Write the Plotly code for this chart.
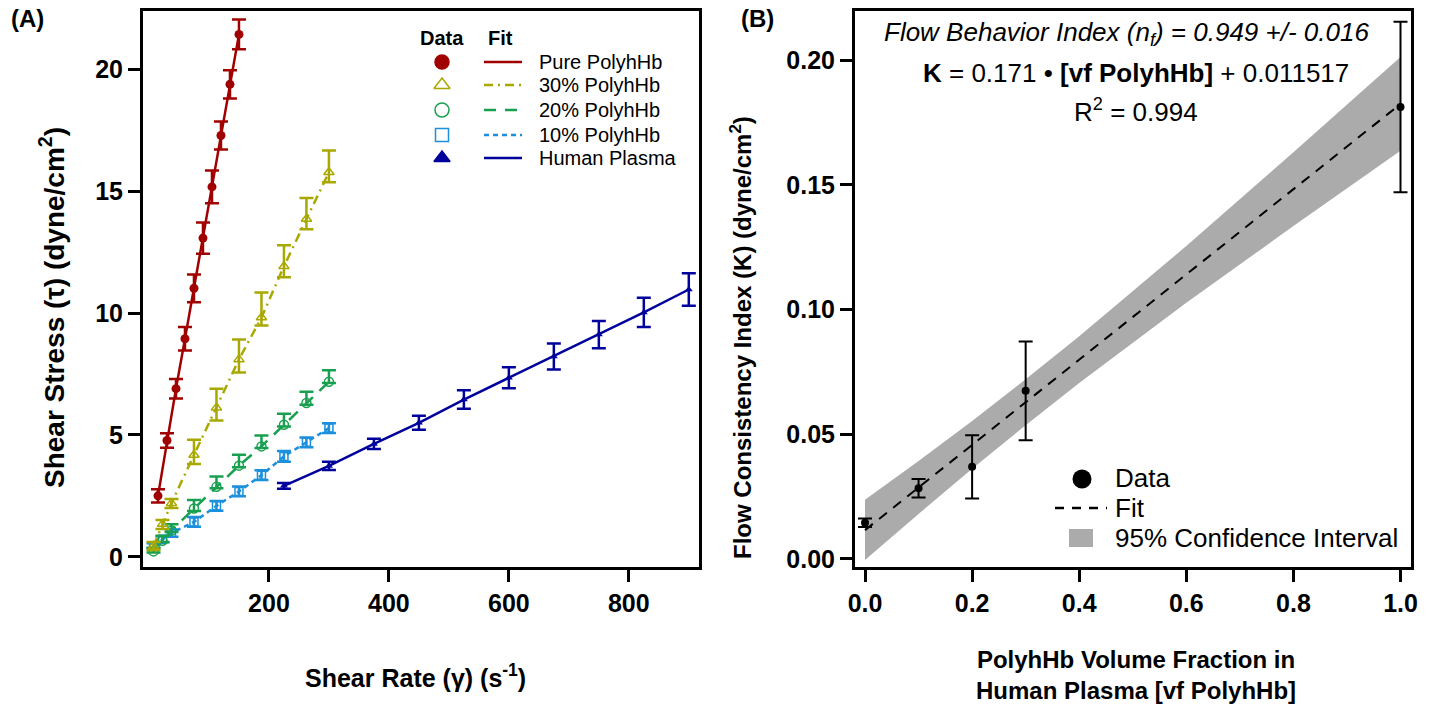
import plotly.graph_objects as go

W, H = 1434, 704

# ---------------- Panel A data ----------------
rate_pure = [15, 30, 45, 60, 75, 90, 105, 120, 135, 150]
tau_pure = [2.5, 4.77, 6.9, 8.95, 11.02, 13.08, 15.18, 17.29, 19.39, 21.44]
err_pure = [0.27, 0.30, 0.40, 0.48, 0.57, 0.64, 0.67, 0.57, 0.58, 0.61]

rate_mix = [7.5, 22.5, 37.5, 75, 112.5, 150, 187.5, 225, 262.5, 300]
tau_30 = [0.44, 1.34, 2.2, 4.18, 6.12, 8.1, 9.82, 11.92, 13.86, 15.78]
errp_30 = [0.17, 0.17, 0.17, 0.62, 0.78, 0.82, 1.03, 0.87, 0.86, 0.89]
errm_30 = [0.16, 0.20, 0.20, 0.37, 0.53, 0.54, 0.33, 0.45, 0.42, 0.41]

tau_20 = [0.22, 0.66, 1.08, 1.98, 2.87, 3.74, 4.53, 5.42, 6.31, 7.18]
errp_20 = [0.15, 0.20, 0.25, 0.35, 0.42, 0.45, 0.45, 0.45, 0.46, 0.48]
errm_20 = [0.05, 0.05, 0.06, 0.10, 0.06, 0.07, 0.07, 0.07, 0.07, 0.05]

tau_10 = [0.45, 0.72, 0.97, 1.43, 2.09, 2.68, 3.35, 4.12, 4.70, 5.28]
err_10 = [0.10, 0.12, 0.15, 0.20, 0.20, 0.20, 0.20, 0.22, 0.20, 0.20]

rate_hp = [225, 300, 375, 450, 525, 600, 675, 750, 825, 900]
tau_hp = [2.91, 3.73, 4.63, 5.50, 6.45, 7.35, 8.22, 9.12, 10.03, 10.97]
err_hp = [0.12, 0.17, 0.21, 0.29, 0.38, 0.43, 0.53, 0.56, 0.60, 0.67]

series_names = ["Pure PolyhHb", "30% PolyhHb", "20% PolyhHb", "10% PolyhHb", "Human Plasma"]

# ---------------- Panel B data ----------------
vf = [0.0, 0.1, 0.2, 0.3, 1.0]
k_val = [0.0145, 0.0283, 0.0369, 0.0674, 0.1813]
k_err = [0.0017, 0.0037, 0.0127, 0.0198, 0.0342]
fit_vf = [0.0, 1.0]
fit_k = [0.0115, 0.1825]
band_vf = [0.0, 0.1, 0.2, 0.3, 0.4, 0.6, 0.8, 1.0]
band_lo = [-0.0005, 0.0180, 0.0361, 0.0536, 0.0705, 0.1027, 0.1335, 0.1637]
band_hi = [0.0237, 0.0392, 0.0553, 0.0720, 0.0893, 0.1255, 0.1631, 0.2013]

# ---------------- style ----------------
C_PURE = "#A00000"
C_30 = "#A8A800"
C_20 = "#18A050"
C_10 = "#1C90DC"
C_HP = "#00009C"
C_BAND = "#ABABAB"
FONT = "Liberation Sans"

fig = go.Figure()

def fit_line(x, y, color, dash):
    fig.add_trace(go.Scatter(x=x, y=y, mode="lines", xaxis="x", yaxis="y",
                             line=dict(color=color, width=2.5, dash=dash),
                             hoverinfo="skip", showlegend=False))

def data_pts(x, y, plus, minus, color, symbol, size, lw=1.5):
    fig.add_trace(go.Scatter(
        x=x, y=y, mode="markers", xaxis="x", yaxis="y",
        marker=dict(symbol=symbol, size=size, color=color, line=dict(color=color, width=lw)),
        error_y=dict(type="data", array=plus, arrayminus=minus, symmetric=False,
                     color=color, thickness=2.5, width=7),
        showlegend=False))

fit_line(rate_mix, tau_10, C_10, "5px,4px")
fit_line(rate_mix, tau_20, C_20, "12px,9px")
fit_line(rate_mix, tau_30, C_30, "9px,5px,2px,5px")
fit_line(rate_hp, tau_hp, C_HP, "solid")
fit_line(rate_pure, tau_pure, C_PURE, "solid")

data_pts(rate_mix, tau_10, err_10, err_10, C_10, "square-open", 8)
data_pts(rate_mix, tau_20, errp_20, errm_20, C_20, "circle-open", 9)
data_pts(rate_mix, tau_30, errp_30, errm_30, C_30, "triangle-up-open", 9)
data_pts(rate_hp, tau_hp, err_hp, err_hp, C_HP, "triangle-up", 7, 0)
data_pts(rate_pure, tau_pure, err_pure, err_pure, C_PURE, "circle", 9, 0)

# Panel B
fig.add_trace(go.Scatter(x=band_vf + band_vf[::-1], y=band_hi + band_lo[::-1],
                         mode="lines", fill="toself", fillcolor=C_BAND,
                         line=dict(width=0, color=C_BAND), xaxis="x2", yaxis="y2",
                         hoverinfo="skip", showlegend=False))
fig.add_trace(go.Scatter(x=fit_vf, y=fit_k, mode="lines", xaxis="x2", yaxis="y2",
                         line=dict(color="black", width=2, dash="10px,8px"),
                         showlegend=False))
fig.add_trace(go.Scatter(x=vf, y=k_val, mode="markers", xaxis="x2", yaxis="y2",
                         marker=dict(color="black", size=8),
                         error_y=dict(type="data", array=k_err, color="black",
                                      thickness=2, width=7),
                         showlegend=False))

# ---------------- legend markers (pixel overlay axis) ----------------
leg_y = [62, 85, 110, 135, 158]
leg_colors = [C_PURE, C_30, C_20, C_10, C_HP]
leg_symbols = ["circle", "triangle-up-open", "circle-open", "square-open", "triangle-up"]
leg_sizes = [14, 14, 14, 13, 14]
leg_dash = ["solid", "9px,5px,2px,5px", "12px,9px", "5px,4px", "solid"]
for yy, col, sym, sz in zip(leg_y, leg_colors, leg_symbols, leg_sizes):
    fig.add_trace(go.Scatter(x=[442], y=[yy], mode="markers", xaxis="x3", yaxis="y3",
                             marker=dict(symbol=sym, size=sz, color=col,
                                         line=dict(color=col, width=1.5)),
                             hoverinfo="skip", showlegend=False))
fig.add_trace(go.Scatter(x=[1082], y=[479], mode="markers", xaxis="x3", yaxis="y3",
                         marker=dict(symbol="circle", size=19, color="black"),
                         hoverinfo="skip", showlegend=False))

shapes = []
for yy, col, dsh in zip(leg_y, leg_colors, leg_dash):
    shapes.append(dict(type="line", xref="x3", yref="y3", x0=484, x1=522, y0=yy, y1=yy,
                       line=dict(color=col, width=2.5, dash=dsh)))
shapes.append(dict(type="line", xref="x3", yref="y3", x0=1055, x1=1107, y0=508, y1=508,
                   line=dict(color="black", width=2.5, dash="9px,8px")))
shapes.append(dict(type="rect", xref="x3", yref="y3", x0=1069, x1=1093, y0=529, y1=547,
                   fillcolor=C_BAND, line=dict(width=0)))

annotations = []
def ann(x, y, text, size, xanchor="center", angle=0, color="black"):
    annotations.append(dict(x=x, y=y, xref="x3", yref="y3", text=text, showarrow=False,
                            xanchor=xanchor, yanchor="middle", textangle=angle,
                            font=dict(family=FONT, size=size, color=color)))

ann(442, 38, "<b>Data</b>", 20)
ann(500, 38, "<b>Fit</b>", 20)
for yy, name in zip(leg_y, series_names):
    ann(537, yy, name, 20, xanchor="left")

ann(1113, 478, "Data", 26, xanchor="left")
ann(1113, 508, "Fit", 26, xanchor="left")
ann(1113, 538, "95% Confidence Interval", 26, xanchor="left")

ann(1126, 33, "<i>Flow Behavior Index (n<sub>f</sub>) = 0.949 +/- 0.016</i>", 26)
ann(1136, 73, "<b>K</b> = 0.171 • <b>[vf PolyhHb]</b> + 0.011517", 26)
ann(1136, 110, "R<sup>2</sup> = 0.994", 26)

ann(27, 18, "<b>(A)</b>", 24)
ann(757, 18, "<b>(B)</b>", 24)

ann(52, 308, "<b>Shear Stress (τ) (dyne/cm<sup>2</sup>)</b>", 28, angle=-90)
ann(415, 676, "<b>Shear Rate (γ) (s<sup>-1</sup>)</b>", 25)
ann(741, 338, "<b>Flow Consistency Index (K) (dyne/cm<sup>2</sup>)</b>", 24, angle=-90)
ann(1136, 675, "<b>PolyhHb Volume Fraction in<br>Human Plasma [vf PolyhHb]</b>", 24)

ydom = [(H - 567) / H, (H - 11) / H]
axis_common = dict(showline=True, linewidth=3, linecolor="black", mirror=True,
                   ticks="outside", ticklen=12, tickwidth=3, tickcolor="black",
                   showgrid=False, zeroline=False, automargin=False,
                   tickfont=dict(family=FONT, size=25, color="black"))

fig.update_layout(
    width=W, height=H,
    margin=dict(l=0, r=0, t=0, b=0),
    paper_bgcolor="white", plot_bgcolor="rgba(0,0,0,0)",
    showlegend=False,
    font=dict(family=FONT, color="black"),
    xaxis=dict(domain=[143 / W, 699 / W], range=[-10, 917], anchor="y",
               tickvals=[200, 400, 600, 800], ticktext=["<b>200</b>", "<b>400</b>", "<b>600</b>", "<b>800</b>"],
               **axis_common),
    yaxis=dict(domain=ydom, range=[-0.42, 22.4], anchor="x",
               tickvals=[0, 5, 10, 15, 20], ticktext=["<b>0</b>", "<b>5</b>", "<b>10</b>", "<b>15</b>", "<b>20</b>"],
               **axis_common),
    xaxis2=dict(domain=[855 / W, 1411 / W], range=[-0.0187, 1.0196], anchor="y2",
                tickvals=[0, 0.2, 0.4, 0.6, 0.8, 1.0],
                ticktext=["<b>0.0</b>", "<b>0.2</b>", "<b>0.4</b>", "<b>0.6</b>", "<b>0.8</b>", "<b>1.0</b>"],
                **axis_common),
    yaxis2=dict(domain=ydom, range=[-0.0033, 0.2198], anchor="x2",
                tickvals=[0, 0.05, 0.10, 0.15, 0.20],
                ticktext=["<b>0.00</b>", "<b>0.05</b>", "<b>0.10</b>", "<b>0.15</b>", "<b>0.20</b>"],
                **axis_common),
    xaxis3=dict(domain=[0, 1], range=[0, W], anchor="y3", visible=False, fixedrange=True),
    yaxis3=dict(domain=[0, 1], range=[H, 0], anchor="x3", visible=False, fixedrange=True),
    shapes=shapes,
    annotations=annotations,
)

fig.write_html("out.html", config={"displayModeBar": False},
               post_script="document.body.style.margin='0px';document.body.style.overflow='hidden';")
